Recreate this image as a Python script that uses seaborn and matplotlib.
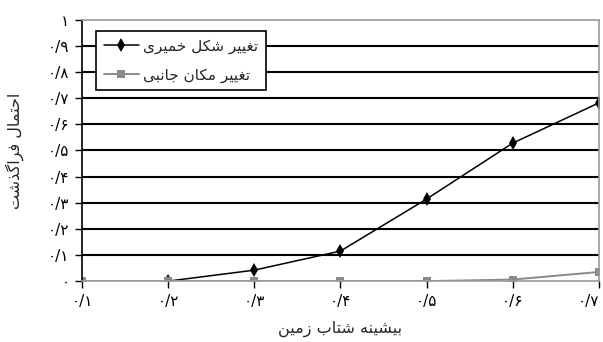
import numpy as np
import pandas as pd
import seaborn as sns
import matplotlib.pyplot as plt

# data
pga = [0.1, 0.2, 0.3, 0.4, 0.5, 0.6, 0.7]
plastic = [np.nan, 0.0, 0.042, 0.115, 0.314, 0.528, 0.682]
lateral = [0.0, 0.0, 0.0, 0.0, 0.0, 0.006, 0.035]
series_names = ["تغییر شکل خمیری", "تغییر مکان جانبی"]
x_ticklabels = ["۰/۱", "۰/۲", "۰/۳", "۰/۴", "۰/۵", "۰/۶", "۰/۷"]
y_ticks = [0, 0.1, 0.2, 0.3, 0.4, 0.5, 0.6, 0.7, 0.8, 0.9, 1.0]
y_ticklabels = ["۰", "۰/۱", "۰/۲", "۰/۳", "۰/۴", "۰/۵", "۰/۶", "۰/۷", "۰/۸", "۰/۹", "۱"]
x_title = "بیشینه شتاب زمین"
y_title = "احتمال فراگذشت"

# matplotlib has no arabic shaping, so pick contextual forms by hand
# (isolated, final, initial, medial)
FORMS = {
    "ا": ("\uFE8D", "\uFE8E", None, None),
    "ب": ("\uFE8F", "\uFE90", "\uFE91", "\uFE92"),
    "ت": ("\uFE95", "\uFE96", "\uFE97", "\uFE98"),
    "ج": ("\uFE9D", "\uFE9E", "\uFE9F", "\uFEA0"),
    "ح": ("\uFEA1", "\uFEA2", "\uFEA3", "\uFEA4"),
    "خ": ("\uFEA5", "\uFEA6", "\uFEA7", "\uFEA8"),
    "ذ": ("\uFEAB", "\uFEAC", None, None),
    "ر": ("\uFEAD", "\uFEAE", None, None),
    "ز": ("\uFEAF", "\uFEB0", None, None),
    "ش": ("\uFEB5", "\uFEB6", "\uFEB7", "\uFEB8"),
    "غ": ("\uFECD", "\uFECE", "\uFECF", "\uFED0"),
    "ف": ("\uFED1", "\uFED2", "\uFED3", "\uFED4"),
    "ل": ("\uFEDD", "\uFEDE", "\uFEDF", "\uFEE0"),
    "م": ("\uFEE1", "\uFEE2", "\uFEE3", "\uFEE4"),
    "ن": ("\uFEE5", "\uFEE6", "\uFEE7", "\uFEE8"),
    "ه": ("\uFEE9", "\uFEEA", "\uFEEB", "\uFEEC"),
    "ک": ("\uFB8E", "\uFB8F", "\uFB90", "\uFB91"),
    "گ": ("\uFB92", "\uFB93", "\uFB94", "\uFB95"),
    "ی": ("\uFBFC", "\uFBFD", "\uFBFE", "\uFBFF"),
}


def fa(text):
    out = []
    for i, c in enumerate(text):
        if c not in FORMS:
            out.append(c)
            continue
        iso, fin, ini, med = FORMS[c]
        prev = text[i - 1] if i > 0 else None
        nxt = text[i + 1] if i + 1 < len(text) else None
        join_prev = prev in FORMS and FORMS[prev][2] is not None
        join_next = nxt in FORMS and ini is not None
        if join_prev and join_next:
            out.append(med)
        elif join_prev:
            out.append(fin)
        elif join_next:
            out.append(ini)
        else:
            out.append(iso)
    return "".join(reversed(out))


labels = [fa(s) for s in series_names]
df = pd.concat([
    pd.DataFrame({"pga": pga, "p": plastic, "mode": labels[0]}),
    pd.DataFrame({"pga": pga, "p": lateral, "mode": labels[1]}),
], ignore_index=True)

sns.set_theme(style="white")
plt.rcParams["font.family"] = ["DejaVu Sans"]

fig = plt.figure(figsize=(6.03, 3.42), dpi=100)
ax = fig.add_axes([0.136, 0.178, 0.857, 0.764])

sns.lineplot(data=df, x="pga", y="p", hue="mode", style="mode",
             hue_order=labels, style_order=labels,
             palette=["black", "#8a8a8a"],
             markers={labels[0]: "d", labels[1]: "s"},
             dashes=False, linewidth=1.1,
             markeredgewidth=0, ax=ax, legend=True)

# marker sizes: small diamonds, slightly bigger grey squares
for ln in ax.lines:
    if ln.get_marker() == "d":
        ln.set_markersize(7)
    elif ln.get_marker() == "s":
        ln.set_markersize(5.5)
        ln.set_linewidth(1.4)

ax.set_xlim(0.1, 0.7)
ax.set_ylim(0, 1)
ax.set_xticks(pga)
ax.set_xticklabels(x_ticklabels, fontsize=11)
ax.get_xticklabels()[-1].set_ha("right")
ax.set_yticks(y_ticks)
ax.set_yticklabels(y_ticklabels, fontsize=11)
for y in y_ticks[1:-1]:
    ax.axhline(y, color="black", lw=1.5, zorder=0)

ax.tick_params(axis="both", direction="out", length=5, width=1, colors="black",
               bottom=True, left=True, pad=4)
ax.spines["left"].set_color("black")
ax.spines["left"].set_linewidth(1.2)
for s in ["top", "right", "bottom"]:
    ax.spines[s].set_color("#9a9a9a")
    ax.spines[s].set_linewidth(1.2)

ax.set_xlabel(fa(x_title), fontsize=11.5, labelpad=9)
ax.set_ylabel(fa(y_title), fontsize=11.5, labelpad=17)

handles, _ = ax.get_legend_handles_labels()
for h in handles:
    if h.get_marker() == "d":
        h.set_markersize(7)
    else:
        h.set_markersize(5.5)
        h.set_linewidth(1.4)
ax.legend(handles, labels, loc="upper left", bbox_to_anchor=(0.027, 0.958),
          fontsize=11, frameon=True, fancybox=False, edgecolor="black",
          framealpha=1, handlelength=2.3, handletextpad=0.3,
          labelspacing=0.9, borderpad=0.5, borderaxespad=0)
ax.get_legend().get_frame().set_linewidth(1.2)

fig.savefig("out.png", dpi=100)
